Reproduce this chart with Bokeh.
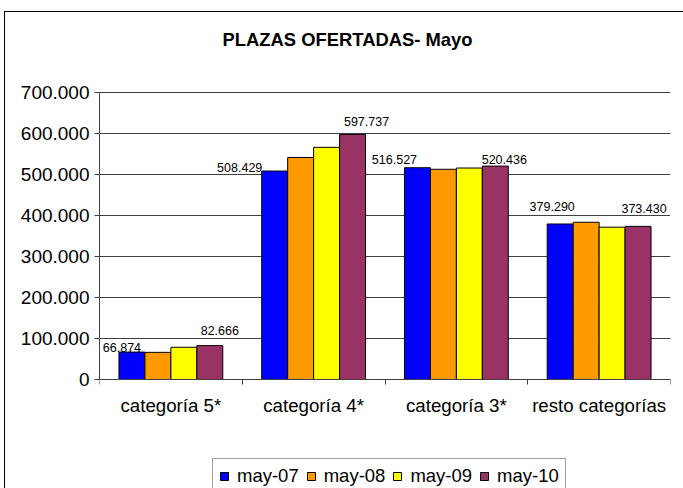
from bokeh.plotting import figure
from bokeh.models import Range1d, FixedTicker, ColumnDataSource, Legend, LegendItem, Label
from bokeh.transform import dodge
from bokeh.core.properties import value
from bokeh.embed import file_html
from bokeh.resources import INLINE

# ---------------- data ----------------
categories = ["categoría 5*", "categoría 4*", "categoría 3*", "resto categorías"]
series_names = ["may-07", "may-08", "may-09", "may-10"]
may_07 = [66874, 508429, 516527, 379290]
may_08 = [66200, 541500, 512700, 383500]
may_09 = [78600, 566300, 515800, 371500]
may_10 = [82666, 597737, 520436, 373430]
y_ticks = [0, 100000, 200000, 300000, 400000, 500000, 600000, 700000]
y_tick_labels = ["0", "100.000", "200.000", "300.000", "400.000", "500.000", "600.000", "700.000"]
title_text = "PLAZAS OFERTADAS- Mayo"

# ---------------- layout / style ----------------
W, H = 683, 488
PLOT_LEFT, PLOT_RIGHT = 99, 670      # plot-area edges (px)
PLOT_TOP, PLOT_BOTTOM = 92, 379      # pixel rows of the top tick and of zero
colors = ["#0000FF", "#FF9900", "#FFFF00", "#993366"]
FONT = "Liberation Sans"
bar_w = 1 / 5.5
offsets = [(k - 1.5) * bar_w for k in range(4)]
# pixel nudges of the data labels (first and last series only)
first_dx = [-10, -35, -23, -8]
first_dy = [5, 4, 8, 17]
last_dx = [10, 14, 9, 6]
last_dy = [15, 13, 7, 18]

y_max = y_ticks[-1]
per_px = y_max / (PLOT_BOTTOM - PLOT_TOP)
y_start = -(H - PLOT_BOTTOM) * per_px
y_end = y_max + PLOT_TOP * per_px
x_per_px = len(categories) / (PLOT_RIGHT - PLOT_LEFT)


def fmt(v):
    return f"{v:,}".replace(",", ".")


p = figure(width=W, height=H, output_backend="svg", toolbar_location=None,
           x_range=Range1d(0, len(categories)), y_range=Range1d(y_start, y_end),
           min_border_left=PLOT_LEFT, min_border_right=W - PLOT_RIGHT,
           min_border_top=0, min_border_bottom=0)
p.outline_line_color = None
p.background_fill_color = None
p.border_fill_color = None
# white page with the outer chart-area border (left and top edges visible)
p.styles = {"background": "linear-gradient(#000,#000) 4px 11px / 1px calc(100% - 11px) no-repeat, "
                          "linear-gradient(#000,#000) 4px 11px / calc(100% - 4px) 1px no-repeat, #fff"}

x_centers = [i + 0.5 for i in range(len(categories))]
series = [may_07, may_08, may_09, may_10]
renderers = []
for k, vals in enumerate(series):
    src = ColumnDataSource(dict(x=x_centers, top=vals))
    r = p.vbar(x=dodge("x", offsets[k]), top="top", bottom=0, width=bar_w, source=src,
               fill_color=colors[k], line_color="black", line_width=1)
    renderers.append(r)

# data labels
for vals, k, dx, dy in [(may_07, 0, first_dx, first_dy), (may_10, 3, last_dx, last_dy)]:
    src = ColumnDataSource(dict(x=[c + offsets[k] for c in x_centers], y=vals,
                                text=[fmt(v) for v in vals], dx=dx,
                                dy=[-d for d in dy]))
    p.text(x="x", y="y", text="text", x_offset="dx", y_offset="dy", source=src,
           text_font=value(FONT), text_font_size="12.5px", text_align="center",
           text_baseline="alphabetic", text_color="black")

# title
p.add_layout(Label(x=(347 - PLOT_LEFT) * x_per_px, y=y_end - 39 * per_px, text=title_text,
                   text_align="center", text_baseline="alphabetic", text_font=FONT,
                   text_font_size="18.4px", text_font_style="bold", text_color="black"))

# category axis drawn at zero
p.xaxis.fixed_location = 0
p.xaxis.ticker = FixedTicker(ticks=x_centers, minor_ticks=list(range(len(categories) + 1)))
p.xaxis.major_label_overrides = {x: c for x, c in zip(x_centers, categories)}
p.xaxis.major_tick_out = 0
p.xaxis.major_tick_in = 0
p.xaxis.minor_tick_out = 5
p.xaxis.minor_tick_in = 0
p.xaxis.minor_tick_line_color = "#404040"
p.xaxis.axis_line_color = "#404040"
p.xaxis.major_label_standoff = 10
p.xaxis.major_label_text_font = FONT
p.xaxis.major_label_text_font_size = "18.7px"
p.xaxis.major_label_text_color = "black"

p.yaxis.bounds = (0, y_max)
p.yaxis.ticker = FixedTicker(ticks=y_ticks, minor_ticks=[])
p.yaxis.major_label_overrides = {t: l for t, l in zip(y_ticks, y_tick_labels)}
p.yaxis.major_tick_out = 5
p.yaxis.major_tick_in = 0
p.yaxis.major_tick_line_color = "#404040"
p.yaxis.axis_line_color = "#404040"
p.yaxis.major_label_standoff = 5
p.yaxis.major_label_text_font = FONT
p.yaxis.major_label_text_font_size = "19px"
p.yaxis.major_label_text_color = "black"

p.xgrid.grid_line_color = None
p.ygrid.ticker = FixedTicker(ticks=y_ticks)
p.ygrid.grid_line_color = "#404040"
p.ygrid.grid_line_width = 1

legend = Legend(items=[LegendItem(label=n, renderers=[r]) for n, r in zip(series_names, renderers)],
                orientation="horizontal", location=(113, -6),
                glyph_width=10, glyph_height=10, label_standoff=8, spacing=7,
                padding=6, margin=0, label_height=20,
                label_text_font=FONT, label_text_font_size="18.5px",
                label_text_color="black", border_line_color="#404040",
                background_fill_color="white", background_fill_alpha=1)
p.add_layout(legend, "center")

open("out.html", "w").write(file_html(p, INLINE))
